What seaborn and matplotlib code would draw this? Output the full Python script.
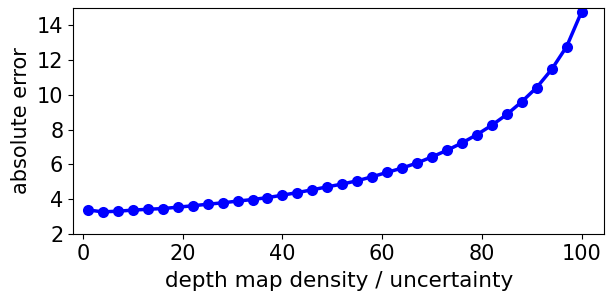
import numpy as np
import pandas as pd
import matplotlib
matplotlib.use("Agg")
import matplotlib.pyplot as plt
import seaborn as sns

# density / uncertainty percentile vs absolute error
density = [1, 4, 7, 10, 13, 16, 19, 22, 25, 28, 31, 34, 37, 40, 43, 46, 49,
           52, 55, 58, 61, 64, 67, 70, 73, 76, 79, 82, 85, 88, 91, 94, 97, 100]
abs_error = [3.38, 3.27, 3.31, 3.37, 3.42, 3.46, 3.54, 3.62, 3.71, 3.79, 3.89,
             3.98, 4.09, 4.23, 4.38, 4.54, 4.71, 4.87, 5.06, 5.29, 5.54, 5.79,
             6.08, 6.43, 6.81, 7.23, 7.71, 8.25, 8.87, 9.60, 10.42, 11.46,
             12.77, 14.77]

df = pd.DataFrame({"density": density, "error": abs_error})

sns.set_style("ticks")
plt.rcParams["font.family"] = ["DejaVu Sans"]
plt.rcParams["text.color"] = "black"
plt.rcParams["axes.labelcolor"] = "black"
plt.rcParams["xtick.color"] = "black"
plt.rcParams["ytick.color"] = "black"
plt.rcParams["axes.edgecolor"] = "black"

fig = plt.figure(figsize=(6.06, 2.91), dpi=100)
ax = fig.add_axes([0.1205, 0.196, 0.877, 0.777])

sns.lineplot(data=df, x="density", y="error", ax=ax, color="blue",
             marker="o", markersize=8, markeredgewidth=0, linewidth=2.5)

ax.set_xlim(-2, 104.6)
ax.set_ylim(2, 15)
ax.set_xticks([0, 20, 40, 60, 80, 100])
ax.set_yticks([2, 4, 6, 8, 10, 12, 14])
ax.tick_params(labelsize=15)
ax.set_xlabel("depth map density / uncertainty", fontsize=15.5, labelpad=5)
ax.set_ylabel("absolute error", fontsize=15)

fig.savefig("out.png", dpi=100)
